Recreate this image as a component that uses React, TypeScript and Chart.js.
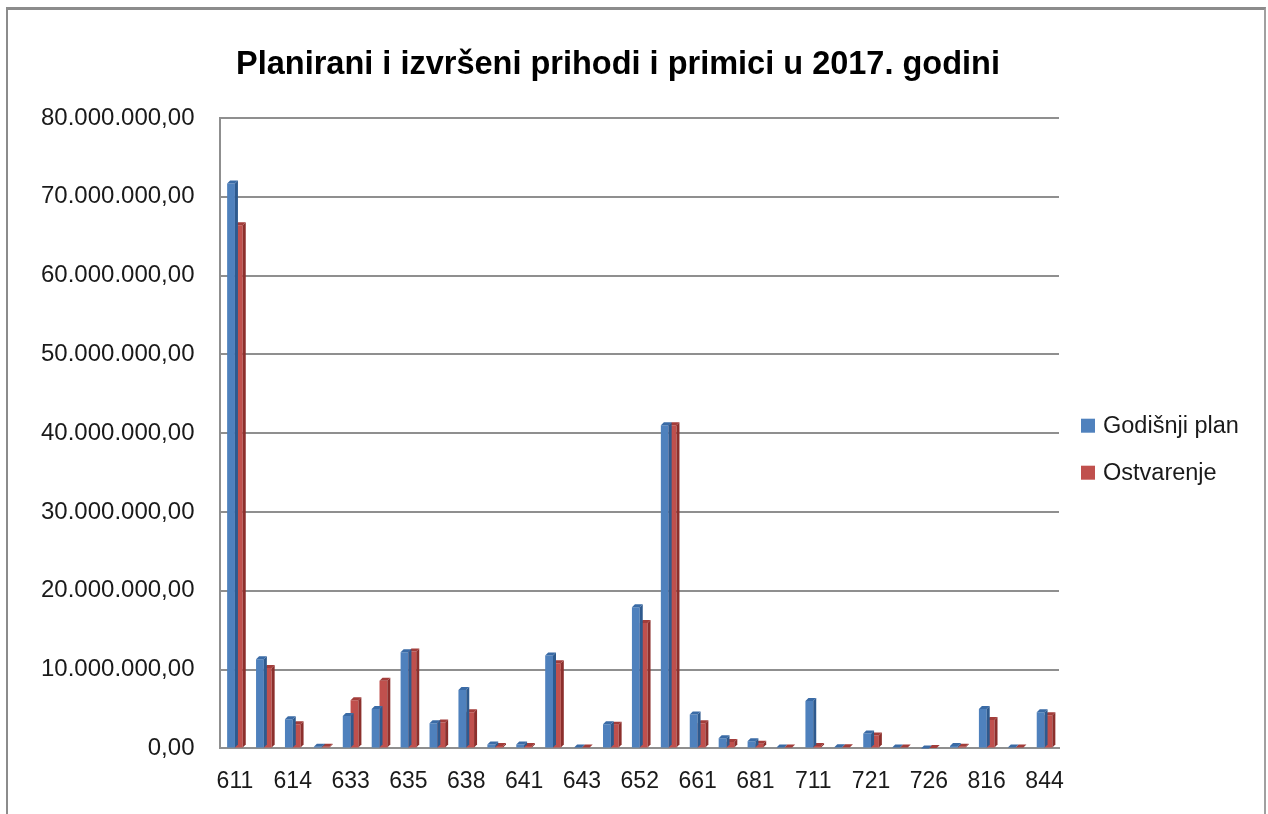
import React, { useEffect, useRef } from "react";
import { Chart, registerables } from "chart.js";

Chart.register(...registerables);

const categories = [
  "611", "613", "614", "632", "633", "634", "635", "636", "638", "639",
  "641", "642", "643", "651", "652", "653", "661", "663", "681", "683",
  "711", "712", "721", "722", "726", "812", "816", "818", "844",
];

const godisnjiPlan = [
  71700000, 11300000, 3700000, 200000, 4100000, 5000000, 12200000, 3200000, 7400000, 500000,
  500000, 11800000, 100000, 3050000, 17900000, 41000000, 4300000, 1300000, 900000, 100000,
  6000000, 150000, 1900000, 100000, 0, 300000, 5000000, 100000, 4600000,
];

const ostvarenje = [
  66400000, 10200000, 3050000, 200000, 6100000, 8600000, 12300000, 3300000, 4600000, 300000,
  300000, 10800000, 100000, 3000000, 15900000, 41000000, 3200000, 800000, 600000, 100000,
  300000, 150000, 1650000, 100000, 50000, 200000, 3600000, 100000, 4200000,
];

const seriesNames = ["Godišnji plan", "Ostvarenje"];
const titleText = "Planirani i izvršeni prihodi i primici u 2017. godini";

const FONT = "'Liberation Sans', Arial, sans-serif";

function formatHr(v: number): string {
  const fixed = Math.abs(v).toFixed(2);
  const [intPart, dec] = fixed.split(".");
  const withDots = intPart.replace(/\B(?=(\d{3})+(?!\d))/g, ".");
  return (v < 0 ? "-" : "") + withDots + "," + dec;
}

const bar3d = {
  id: "bar3d",
  afterDatasetDraw(chart: any, args: any) {
    const meta = chart.getDatasetMeta(args.index);
    const ds = chart.data.datasets[args.index];
    const side = ds.sideColor as string;
    const top = ds.topColor as string;
    const d = 3;
    const ctx = chart.ctx;
    ctx.save();
    meta.data.forEach((el: any) => {
      const p = el.getProps(["x", "y", "base", "width"], true);
      const l = p.x - p.width / 2;
      const r = p.x + p.width / 2;
      const y = p.y;
      const b = p.base;
      if (b - y > 0.5) {
        ctx.fillStyle = side;
        ctx.beginPath();
        ctx.moveTo(r, y);
        ctx.lineTo(r + d, y - d);
        ctx.lineTo(r + d, b - d);
        ctx.lineTo(r, b);
        ctx.closePath();
        ctx.fill();
      }
      ctx.fillStyle = top;
      ctx.beginPath();
      ctx.moveTo(l, y);
      ctx.lineTo(l + d, y - d);
      ctx.lineTo(r + d, y - d);
      ctx.lineTo(r, y);
      ctx.closePath();
      ctx.fill();
    });
    ctx.restore();
  },
};

const titleAndLegend = {
  id: "titleAndLegend",
  afterDraw(chart: any) {
    const ctx = chart.ctx;
    const ca = chart.chartArea;
    ctx.save();
    // title
    ctx.fillStyle = "#000";
    ctx.font = `bold 32.5px ${FONT}`;
    ctx.textAlign = "center";
    ctx.textBaseline = "middle";
    ctx.fillText(titleText, 610, 55);
    // legend
    const midY = (ca.top + ca.bottom) / 2;
    const offs = [-7.5, 39.5];
    ctx.font = `23.5px ${FONT}`;
    ctx.textAlign = "left";
    chart.data.datasets.forEach((ds: any, i: number) => {
      const cy = midY + offs[i];
      const bx = ca.right + 22;
      ctx.fillStyle = ds.backgroundColor;
      ctx.fillRect(bx, cy - 7, 14, 14);
      ctx.fillStyle = "#1a1a1a";
      ctx.fillText(ds.label, bx + 22, cy + 1);
    });
    ctx.restore();
  },
};

export default function App() {
  const canvasRef = useRef<HTMLCanvasElement | null>(null);

  useEffect(() => {
    if (!canvasRef.current) return;
    const chart = new Chart(canvasRef.current, {
      type: "bar",
      data: {
        labels: categories,
        datasets: [
          {
            label: seriesNames[0],
            data: godisnjiPlan,
            backgroundColor: "#4F81BD",
            sideColor: "#2E5A8E",
            topColor: "#3A6BA6",
            categoryPercentage: 0.54,
            barPercentage: 1.0,
          } as any,
          {
            label: seriesNames[1],
            data: ostvarenje,
            backgroundColor: "#C0504D",
            sideColor: "#8C2F2C",
            topColor: "#A33D3A",
            categoryPercentage: 0.54,
            barPercentage: 1.0,
          } as any,
        ],
      },
      plugins: [bar3d, titleAndLegend],
      options: {
        animation: false,
        responsive: true,
        maintainAspectRatio: false,
        layout: { padding: { left: 7, right: 205, top: 108, bottom: 8 } },
        plugins: {
          title: { display: false },
          legend: { display: false },
          tooltip: { enabled: false },
        },
        scales: {
          x: {
            grid: { display: false },
            border: { display: true, color: "#8f8f8f", width: 2 },
            ticks: {
              autoSkip: false,
              maxRotation: 0,
              minRotation: 0,
              padding: 11,
              color: "#1a1a1a",
              font: { family: FONT, size: 23 },
              callback: (_v: any, i: number) => (i % 2 === 0 ? categories[i] : ""),
            },
          },
          y: {
            min: 0,
            max: 80000000,
            ticks: {
              stepSize: 10000000,
              padding: 26,
              color: "#1a1a1a",
              font: { family: FONT, size: 24 },
              callback: (v: any) => formatHr(Number(v)),
            },
            grid: { color: "#8f8f8f", lineWidth: 2, drawTicks: false },
            border: { display: true, color: "#8f8f8f", width: 2 },
          },
        },
      } as any,
    });
    return () => chart.destroy();
  }, []);

  return (
    <div
      style={{
        position: "fixed",
        left: 6,
        top: 7,
        right: 2,
        bottom: 0,
        borderLeft: "2px solid #8c8c8c",
        borderTop: "3px solid #8c8c8c",
        borderRight: "2px solid #a0a0a0",
        background: "#fff",
        boxSizing: "border-box",
      }}
    >
      <div style={{ position: "relative", width: "100%", height: "100%" }}>
        <canvas ref={canvasRef} />
      </div>
    </div>
  );
}
